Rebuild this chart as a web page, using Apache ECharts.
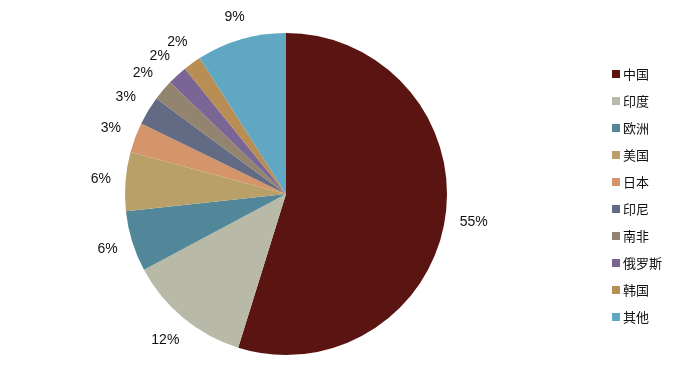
<!DOCTYPE html>
<html>
<head>
<meta charset="utf-8">
<script src="https://cdn.jsdelivr.net/npm/echarts@6/dist/echarts.min.js"></script>
<style>html,body{margin:0;padding:0;background:#fff;}#c{width:700px;height:369px;}</style>
</head>
<body>
<div id="c"></div>
<script>
var categories = ['中国','印度','欧洲','美国','日本','印尼','南非','俄罗斯','韩国','其他'];
var shares = [54.8, 12.4, 6.1, 5.9, 3.0, 2.9, 2.1, 2.0, 1.8, 9.0];
var colors = ['#5a1512','#b8b9a7','#518798','#b9a068','#d4956a','#636a84','#938470','#7a6694','#b88e55','#5fa7c3'];

var CX = 286, CY = 194, R = 161, GAP = 14;
var total = shares.reduce(function(a,b){return a+b;},0);
var midAngles = [];
(function(){ var cum = 0; shares.forEach(function(v){ midAngles.push((cum + v/2)/total*2*Math.PI); cum += v; }); })();

var data = categories.map(function(n,i){return {name:n, value:shares[i]};});
var chart = echarts.init(document.getElementById('c'));
chart.setOption({
  animation:false,
  backgroundColor:'#ffffff',
  color: colors,
  legend:{
    orient:'vertical', left:607, top:62,
    itemWidth:8, itemHeight:8, itemGap:13,
    icon:'rect',
    selectedMode:false,
    textStyle:{fontFamily:'"Noto Sans CJK SC", sans-serif', fontSize:13, color:'#111', lineHeight:14, padding:[0,0,0,-2]},
    data: categories
  },
  series:[
    {
      type:'pie', center:[CX,CY], radius:[0,R],
      startAngle:90, clockwise:true, silent:true,
      itemStyle:{borderWidth:0},
      emphasis:{disabled:true},
      label:{show:true, position:'outside', color:'#111', fontSize:14, fontFamily:'"Liberation Sans", Arial, sans-serif',
        formatter:function(p){return Math.round(p.value)+'%';}},
      labelLine:{show:false},
      labelLayout:function(p){
        var a = midAngles[p.dataIndex];
        var ux = Math.sin(a), uy = -Math.cos(a);
        var w = p.labelRect.width, h = 14;
        var d = R + GAP + Math.abs(ux)*w/2 + Math.abs(uy)*h/2;
        return {x: CX + ux*d, y: CY + uy*d, align:'center', verticalAlign:'middle'};
      },
      data:data
    }
  ]
});
</script>
</body>
</html>
